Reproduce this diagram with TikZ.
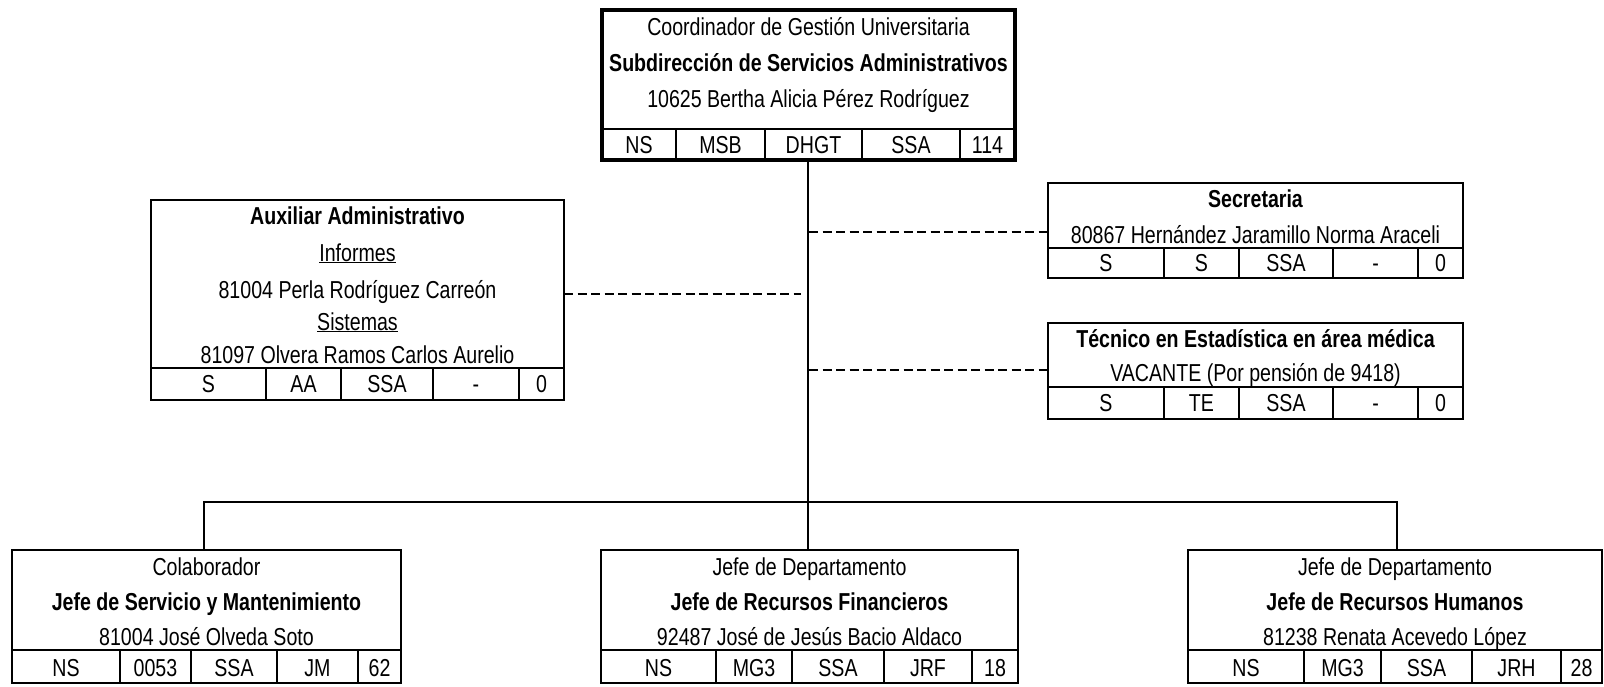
\documentclass[tikz,border=0pt]{standalone}
\usepackage{fontspec}
\setmainfont{Liberation Sans}[FakeStretch=0.80]
\begin{document}
\begin{tikzpicture}[x=1pt,y=-1pt,
  txt/.style={inner sep=0pt, anchor=base, font=\fontsize{24.5}{28}\selectfont},
  cell/.style={inner sep=0pt, anchor=base, font=\fontsize{24.5}{28}\selectfont},
  boxn/.style={draw, line width=2pt, inner sep=0pt, outer sep=0pt, anchor=north west},
  topboxn/.style={boxn, line width=4.5pt},
  sep/.style={line width=1.6pt},
  conn/.style={line width=2pt},
  dconn/.style={line width=2pt, dash pattern=on 9pt off 4.5pt}]
\useasboundingbox (0,0) rectangle (1604,686);
\newcommand\orgrow[7]{%
  \draw[sep] (#2,#4) -- (#3,#4);
  \foreach \a/\b/\t [count=\i] in {#7} {
    \node[cell] (#1c\i) at ({(\a+\b)/2},{#5}) {\t};
  }
  \foreach \a/\b/\t in {#7} {\draw[sep] (\b,#4) -- (\b,#6);}
}
% ---------- top box
\node[topboxn, minimum width=413pt, minimum height=150pt] (top) at (602,10) {};
\node[txt] (topt1) at (808.5,35) {Coordinador de Gestión Universitaria};
\node[txt] (topt2) at (808.5,71) {\bfseries Subdirección de Servicios Administrativos};
\node[txt] (topt3) at (808.5,107) {10625 Bertha Alicia Pérez Rodríguez};
\draw[sep] (602,129) -- (1015,129);
\foreach \a/\b/\t [count=\i] in {602/676/NS,676/765/MSB,765/862/DHGT,862/960/SSA,960/1015/114} {
  \node[cell] (topc\i) at ({(\a+\b)/2},153) {\t};
}
\foreach \b in {676,765,862,960} {\draw[sep] (\b,129) -- (\b,160);}
% ---------- left box
\node[boxn, minimum width=413pt, minimum height=200pt] (left) at (151,200) {};
\node[txt] (leftt1) at (357.5,224) {\bfseries Auxiliar Administrativo};
\node[txt] (leftt2) at (357.5,261) {\underline{Informes}};
\node[txt] (leftt3) at (357.5,298) {81004 Perla Rodríguez Carreón};
\node[txt] (leftt4) at (357.5,330) {\underline{Sistemas}};
\node[txt] (leftt5) at (357.5,363) {81097 Olvera Ramos Carlos Aurelio};
\orgrow{left}{151}{564}{368}{392}{400}{151/266/S,266/341/AA,341/433/SSA,433/519/-,519/564/0}
% ---------- secretaria
\node[boxn, minimum width=415pt, minimum height=95pt] (sec) at (1048,183) {};
\node[txt] (sect1) at (1255.5,207) {\bfseries Secretaria};
\node[txt] (sect2) at (1255.5,243) {80867 Hernández Jaramillo Norma Araceli};
\orgrow{sec}{1048}{1463}{248}{271}{278}{1048/1164/S,1164/1239/S,1239/1333/SSA,1333/1418/-,1418/1463/0}
% ---------- tecnico
\node[boxn, minimum width=415pt, minimum height=96pt] (tec) at (1048,323) {};
\node[txt] (tect1) at (1255.5,347) {\bfseries Técnico en Estadística en área médica};
\node[txt] (tect2) at (1255.5,381) {VACANTE (Por pensión de 9418)};
\orgrow{tec}{1048}{1463}{387}{411}{419}{1048/1164/S,1164/1239/TE,1239/1333/SSA,1333/1418/-,1418/1463/0}
% ---------- bottom boxes
\node[boxn, minimum width=389pt, minimum height=133pt] (b1) at (12,550) {};
\node[txt] (b1t1) at (206.5,575) {Colaborador};
\node[txt] (b1t2) at (206.5,610) {\bfseries Jefe de Servicio y Mantenimiento};
\node[txt] (b1t3) at (206.5,645) {81004 José Olveda Soto};
\orgrow{b1}{12}{401}{650}{676}{683}{12/120/NS,120/191/0053,191/277/SSA,277/358/JM,358/401/62}
\node[boxn, minimum width=417pt, minimum height=133pt] (b2) at (601,550) {};
\node[txt] (b2t1) at (809.5,575) {Jefe de Departamento};
\node[txt] (b2t2) at (809.5,610) {\bfseries Jefe de Recursos Financieros};
\node[txt] (b2t3) at (809.5,645) {92487 José de Jesús Bacio Aldaco};
\orgrow{b2}{601}{1018}{650}{676}{683}{601/716/NS,716/792/MG3,792/884/SSA,884/972/JRF,972/1018/18}
\node[boxn, minimum width=414pt, minimum height=133pt] (b3) at (1188,550) {};
\node[txt] (b3t1) at (1395,575) {Jefe de Departamento};
\node[txt] (b3t2) at (1395,610) {\bfseries Jefe de Recursos Humanos};
\node[txt] (b3t3) at (1395,645) {81238 Renata Acevedo López};
\orgrow{b3}{1188}{1602}{650}{676}{683}{1188/1304/NS,1304/1381/MG3,1381/1472/SSA,1472/1561/JRH,1561/1602/28}
% ---------- connectors
\coordinate (trunk) at (807.5,502);
\coordinate (jl) at (204,502);
\coordinate (jr) at (1397,502);
\draw[conn] (top.south -| trunk) -- (trunk) -- (b2.north -| trunk);
\draw[conn] (b1.north -| jl) -- (jl) -- (jr) -- (b3.north -| jr);
\coordinate (dl) at (801,294);
\coordinate (dr1) at (809,232);
\coordinate (dr2) at (809,370);
\draw[dconn] (left.east |- dl) -- (dl);
\draw[dconn] (dr1) -- (sec.west |- dr1);
\draw[dconn] (dr2) -- (tec.west |- dr2);
\end{tikzpicture}
\end{document}
